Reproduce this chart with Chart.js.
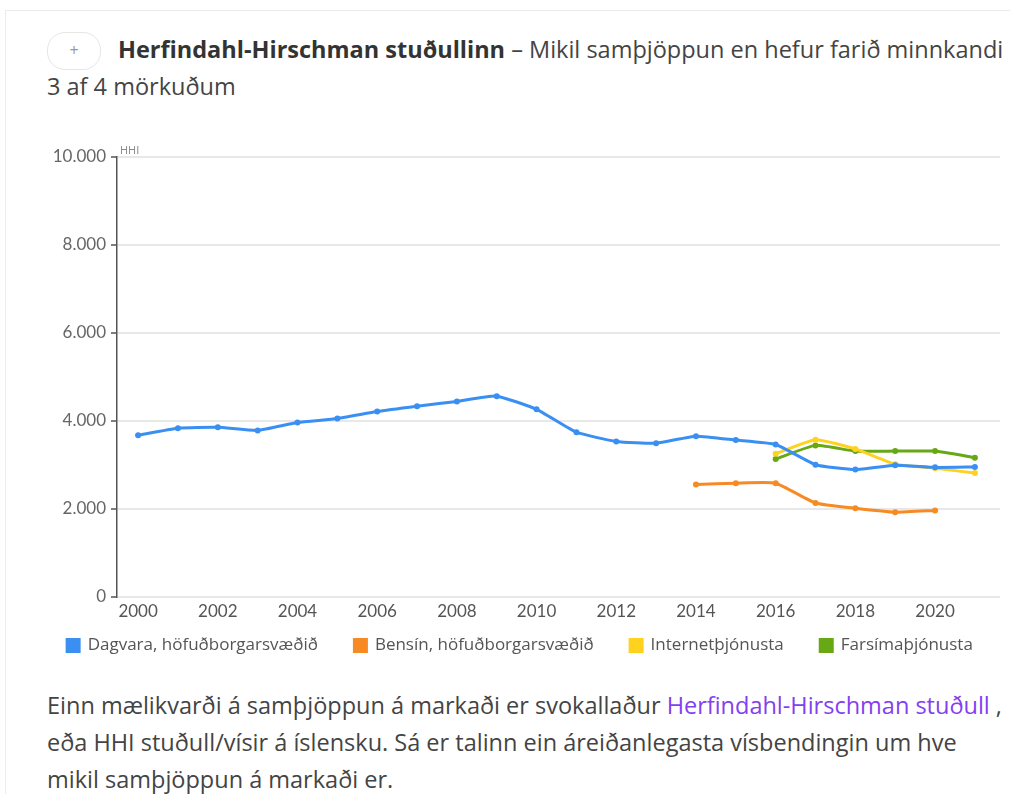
<!DOCTYPE html>
<html lang="is">
<head>
<meta charset="utf-8">
<title>HHI</title>
<script src="https://cdn.jsdelivr.net/npm/chart.js@4/dist/chart.umd.min.js"></script>
<style>
  body { margin: 0; background: #fff; font-family: "Open Sans", Lato, sans-serif; color: #444; overflow: hidden; }
  .card { position: absolute; left: 5px; top: 10px; width: 1100px; height: 900px; border: 1px solid #ececec; }
  .takki { position: absolute; left: 47px; top: 32px; width: 52px; height: 36px; border: 1px solid #e6e6e6; border-radius: 18px; text-align: center; line-height: 34px; color: #999; font-size: 16px; }
  .titill { position: absolute; left: 47px; top: 31px; font-size: 23.5px; line-height: 37px; color: #444; white-space: nowrap; }
  .titill b { color: #333; font-weight: 700; }
  .texti { position: absolute; left: 47px; top: 687px; font-size: 23.5px; line-height: 37px; color: #444; white-space: nowrap; }
  .texti a { color: #8340f0; text-decoration: none; }
  #wrap { position: absolute; left: 40px; top: 130px; width: 970px; height: 534px; }
</style>
</head>
<body>
<div class="card"></div>
<div class="takki">+</div>
<div class="titill"><span style="margin-left:71px"></span><b>Herfindahl-Hirschman stuðullinn</b> – Mikil samþjöppun en hefur farið minnkandi á<br>3 af 4 mörkuðum</div>
<div id="wrap"><canvas id="myChart"></canvas></div>
<div class="texti">Einn mælikvarði á samþjöppun á markaði er svokallaður <a href="#">Herfindahl-Hirschman stuðull</a> ,<br>eða HHI stuðull/vísir á íslensku. Sá er talinn ein áreiðanlegasta vísbendingin um hve<br>mikil samþjöppun á markaði er.</div>
<script>
"use strict"
// Gögn lesin af myndinni
const years = [2000, 2001, 2002, 2003, 2004, 2005, 2006, 2007, 2008, 2009, 2010, 2011, 2012, 2013, 2014, 2015, 2016, 2017, 2018, 2019, 2020, 2021];
const dagvara = [3670, 3830, 3850, 3780, 3960, 4050, 4210, 4330, 4440, 4560, 4260, 3740, 3530, 3490, 3650, 3560, 3460, 3000, 2890, 2990, 2940, 2950];
const bensin = [null, null, null, null, null, null, null, null, null, null, null, null, null, null, 2550, 2580, 2580, 2130, 2010, 1920, 1960, null];
const internet = [null, null, null, null, null, null, null, null, null, null, null, null, null, null, null, null, 3250, 3570, 3360, 3010, 2920, 2810];
const farsimi = [null, null, null, null, null, null, null, null, null, null, null, null, null, null, null, null, 3130, 3440, 3310, 3310, 3310, 3160];
const seriesNames = ["Dagvara, höfuðborgarsvæðið", "Bensín, höfuðborgarsvæðið", "Internetþjónusta", "Farsímaþjónusta"];
const seriesColors = ["#3a8ff2", "#f78a22", "#ffd21f", "#68a814"];
const xTicks = [2000, 2002, 2004, 2006, 2008, 2010, 2012, 2014, 2016, 2018, 2020];
const yTicks = [0, 2000, 4000, 6000, 8000, 10000];

function toPoints(values) { // breytir lista í {x,y} punkta
    return years.map(function (yr, i) { return { x: yr, y: values[i] }; });
}

const allValues = [dagvara, bensin, internet, farsimi];
const datasets = allValues.map(function (vals, i) {
    return {
        label: seriesNames[i],
        data: toPoints(vals),
        borderColor: seriesColors[i],
        backgroundColor: seriesColors[i],
        borderWidth: 3,
        pointRadius: 3,
        pointBorderWidth: 0,
        tension: 0.15,
        spanGaps: false
    };
});

// "HHI" merkið efst við ásinn
const hhiLabel = {
    id: "hhiLabel",
    afterDraw(chart) {
        const ctx = chart.ctx;
        ctx.save();
        ctx.font = "11px 'Open Sans', sans-serif";
        ctx.fillStyle = "#888";
        ctx.textBaseline = "bottom";
        ctx.fillText("HHI", chart.chartArea.left + 3, chart.chartArea.top - 1);
        ctx.restore();
    }
};

const config = {
    type: "line",
    data: { datasets: datasets },
    options: {
        responsive: true,
        maintainAspectRatio: false,
        animation: false,
        layout: { padding: { top: 27, right: 10, left: 0, bottom: 0 } },
        plugins: {
            legend: {
                position: "bottom",
                labels: {
                    boxWidth: 12, boxHeight: 12, padding: 10,
                    color: "#555",
                    font: { family: "'Open Sans', sans-serif", size: 17 },
                    generateLabels: function (chart) { // bil á milli liða eins og á myndinni
                        const items = Chart.defaults.plugins.legend.labels.generateLabels(chart);
                        items.forEach(function (it, i) { if (i < items.length - 1) it.text = it.text + "      "; });
                        return items;
                    }
                }
            },
            tooltip: { enabled: false }
        },
        scales: {
            x: {
                type: "linear",
                min: 1999.47,
                max: 2021.63,
                afterBuildTicks: function (scale) { scale.ticks = xTicks.map(function (v) { return { value: v }; }); },
                grid: { display: false, drawTicks: false },
                border: { display: false },
                ticks: { color: "#555", padding: 5, font: { family: "Lato, sans-serif", size: 17 }, callback: function (v) { return String(v); } }
            },
            y: {
                min: 0,
                max: 10000,
                afterBuildTicks: function (scale) { scale.ticks = yTicks.map(function (v) { return { value: v }; }); },
                afterFit: function (scale) { scale.width = 77; },
                grid: { color: "#e8e8e8", lineWidth: 2, tickColor: "#555", tickLength: 6, tickWidth: 1.5 },
                border: { display: true, color: "#555", width: 1.5 },
                ticks: {
                    color: "#666", padding: 5,
                    font: { family: "Lato, sans-serif", size: 17 },
                    callback: function (v) { return v.toString().replace(/\B(?=(\d{3})+(?!\d))/g, "."); }
                }
            }
        }
    },
    plugins: [hhiLabel]
};

new Chart(document.getElementById("myChart"), config);
</script>
</body>
</html>
